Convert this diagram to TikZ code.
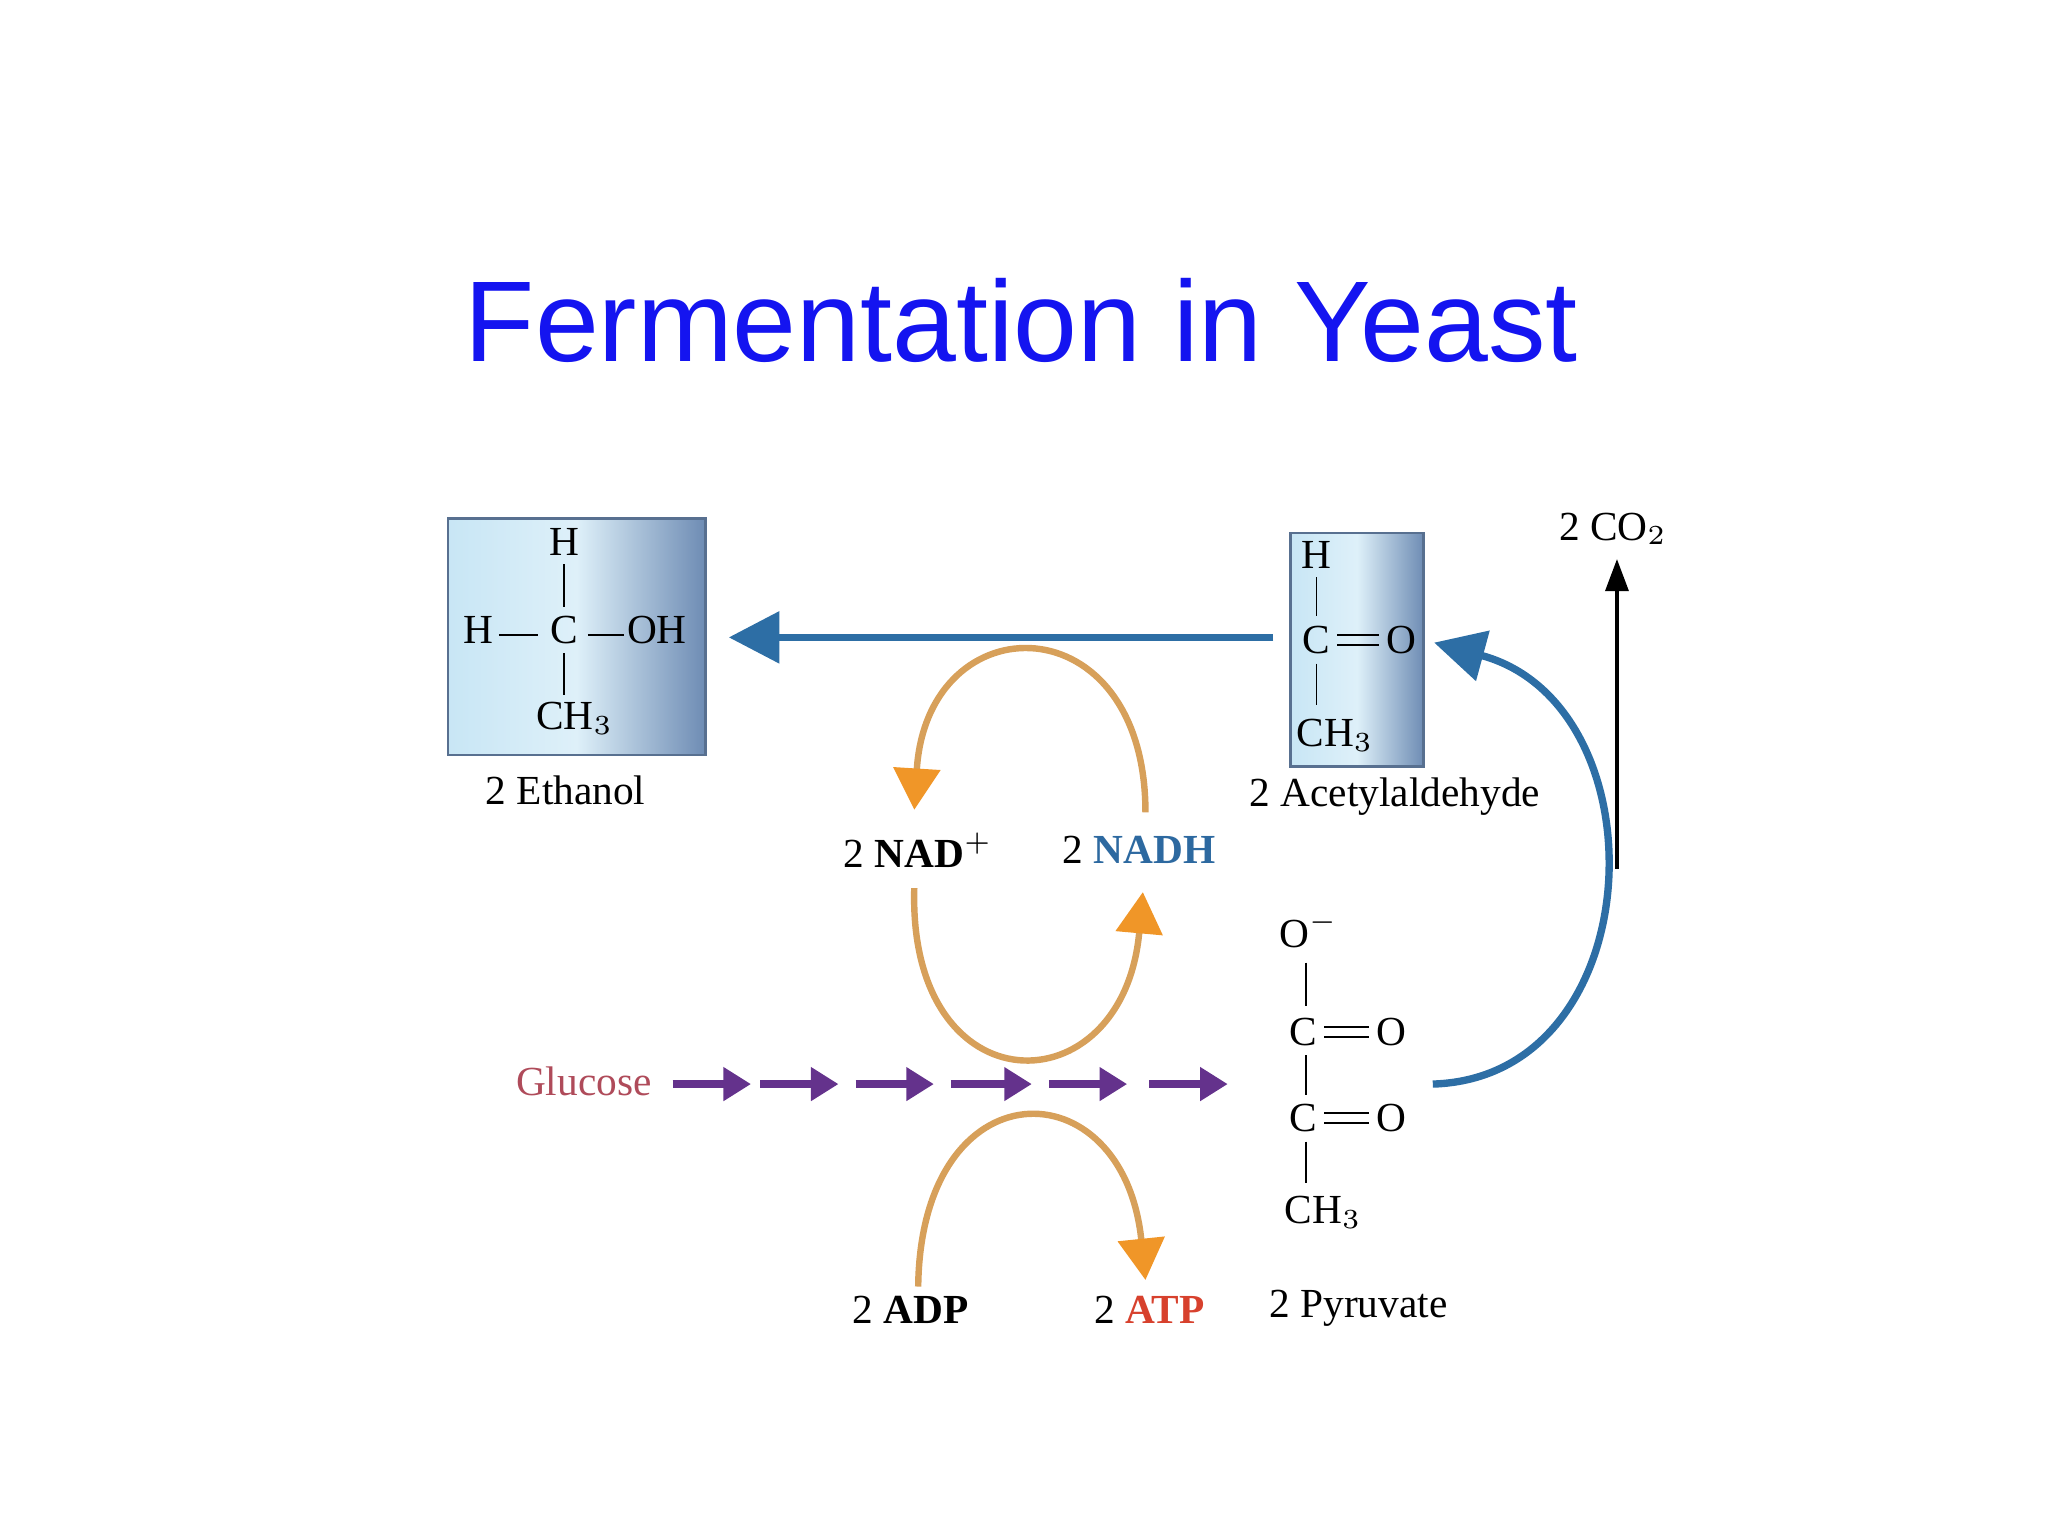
\documentclass[tikz,border=0pt]{standalone}
\usepackage{fontspec}
\setmainfont{Liberation Serif}
\newfontfamily\titlefont{Liberation Sans}
\usetikzlibrary{arrows.meta}
\definecolor{ttl}{RGB}{20,20,240}
\definecolor{arrblue}{RGB}{45,110,165}
\definecolor{org}{RGB}{215,160,90}
\definecolor{orgtip}{RGB}{240,150,40}
\definecolor{purp}{RGB}{100,50,140}
\definecolor{glu}{RGB}{175,75,90}
\definecolor{nadh}{RGB}{45,105,160}
\definecolor{atp}{RGB}{215,65,45}
\definecolor{boxl}{RGB}{200,230,245}
\definecolor{boxd}{RGB}{110,140,180}
\begin{document}
\begin{tikzpicture}[x=0.01cm,y=-0.01cm,
  lbl/.style={font=\fontsize{9}{11}\selectfont,inner sep=0},
  chem/.style={font=\fontsize{9}{11}\selectfont,inner sep=0},
  molbox/.style={draw=boxd!80!black,line width=0.6pt,left color=boxl,right color=boxd,middle color=boxl!60!white},
  orc/.style={draw=org,line width=1.4pt,-{Triangle[length=9pt,width=10pt,color=orgtip]}},
  parr/.style={draw=purp,line width=1.8pt,-{Triangle[length=6pt,width=7pt]}}]
\useasboundingbox (0,0) rectangle (1568,1176);
\node[font=\titlefont\fontsize{25}{30}\selectfont,text=ttl] (title) at (782,245) {Fermentation in Yeast};
% ethanol
\path[molbox] (343,397) rectangle (540,578);
\node[chem] (eH) at (432,415) {H};
\node[chem] (eC) at (432,482) {C};
\node[chem] (eH2) at (366,482) {H};
\node[chem] (eOH) at (503,482) {OH};
\node[chem] (eCH) at (440,550) {CH$_3$};
\draw (382,486) -- (412,486);
\draw (450,486) -- (478,486);
\draw (432,432) -- (432,465);
\draw (432,500) -- (432,532);
\node[lbl] (eth) at (433,605) {2 Ethanol};
% acetaldehyde
\path[molbox] (988,408) rectangle (1090,587);
\node[chem] (aH) at (1008,425) {H};
\node[chem] (aC) at (1008,490) {C};
\node[chem] (aO) at (1073,490) {O};
\node[chem] (aCH) at (1022,563) {CH$_3$};
\draw (1008,442) -- (1008,472);
\draw (1008,508) -- (1008,540);
\draw (1024,486) -- (1056,486) (1024,494) -- (1056,494);
\node[lbl] (acet) at (1068,610) {2 Acetylaldehyde};
% blue main arrow
\coordinate (bs) at (975,488);
\coordinate (be) at (558,488);
\draw[arrblue,line width=1.6pt,-{Triangle[length=11pt,width=11pt]}] (bs) -- (be);
% NAD
\node[lbl] (nad) at (703,651) {2 \textbf{NAD}$^{+}$};
\node[lbl] (nadh) at (872,651) {2 \textcolor{nadh}{\textbf{NADH}}};
\draw[orc] (877,622) .. controls (877,460) and (710,460) .. (700,620);
\draw[orc] (700,680) .. controls (695,850) and (860,850) .. (875,683);
% glucose
\node[lbl,text=glu] (glc) at (447,828) {Glucose};
\foreach \a/\b in {515/575,582/642,655/715,728/790,803/863,880/940}
  \draw[parr] (\a,830) -- (\b,830);
% ADP ATP
\node[lbl] (adp) at (697,1003) {2 \textbf{ADP}};
\node[lbl] (atp) at (880,1003) {2 \textcolor{atp}{\textbf{ATP}}};
\draw[orc] (703,985) .. controls (705,815) and (860,815) .. (877,980);
% pyruvate
\node[chem] (pO) at (1002,712) {O$^{-}$};
\node[chem] (pC1) at (998,790) {C};
\node[chem] (pO1) at (1065,790) {O};
\node[chem] (pC2) at (998,856) {C};
\node[chem] (pO2) at (1065,856) {O};
\node[chem] (pCH) at (1013,928) {CH$_3$};
\draw (1000,737) -- (1000,770) (1000,808) -- (1000,838) (1000,874) -- (1000,906);
\draw (1014,786) -- (1048,786) (1014,794) -- (1048,794);
\draw (1014,852) -- (1048,852) (1014,860) -- (1048,860);
\node[lbl] (pyr) at (1040,1002) {2 Pyruvate};
% blue curve
\coordinate (cs) at (1097,830);
\coordinate (ce) at (1098,492);
\draw[arrblue,line width=1.6pt,-{Triangle[length=11pt,width=11pt]}] (cs) .. controls (1265,825) and (1275,540) .. (ce);
% CO2
\node[lbl] (co2) at (1235,405) {2 CO$_2$};
\coordinate (cob) at (1238,665);
\draw[line width=0.8pt,-{Triangle[length=7pt,width=5pt]}] (cob) -- (1238,428);
\end{tikzpicture}
\end{document}
